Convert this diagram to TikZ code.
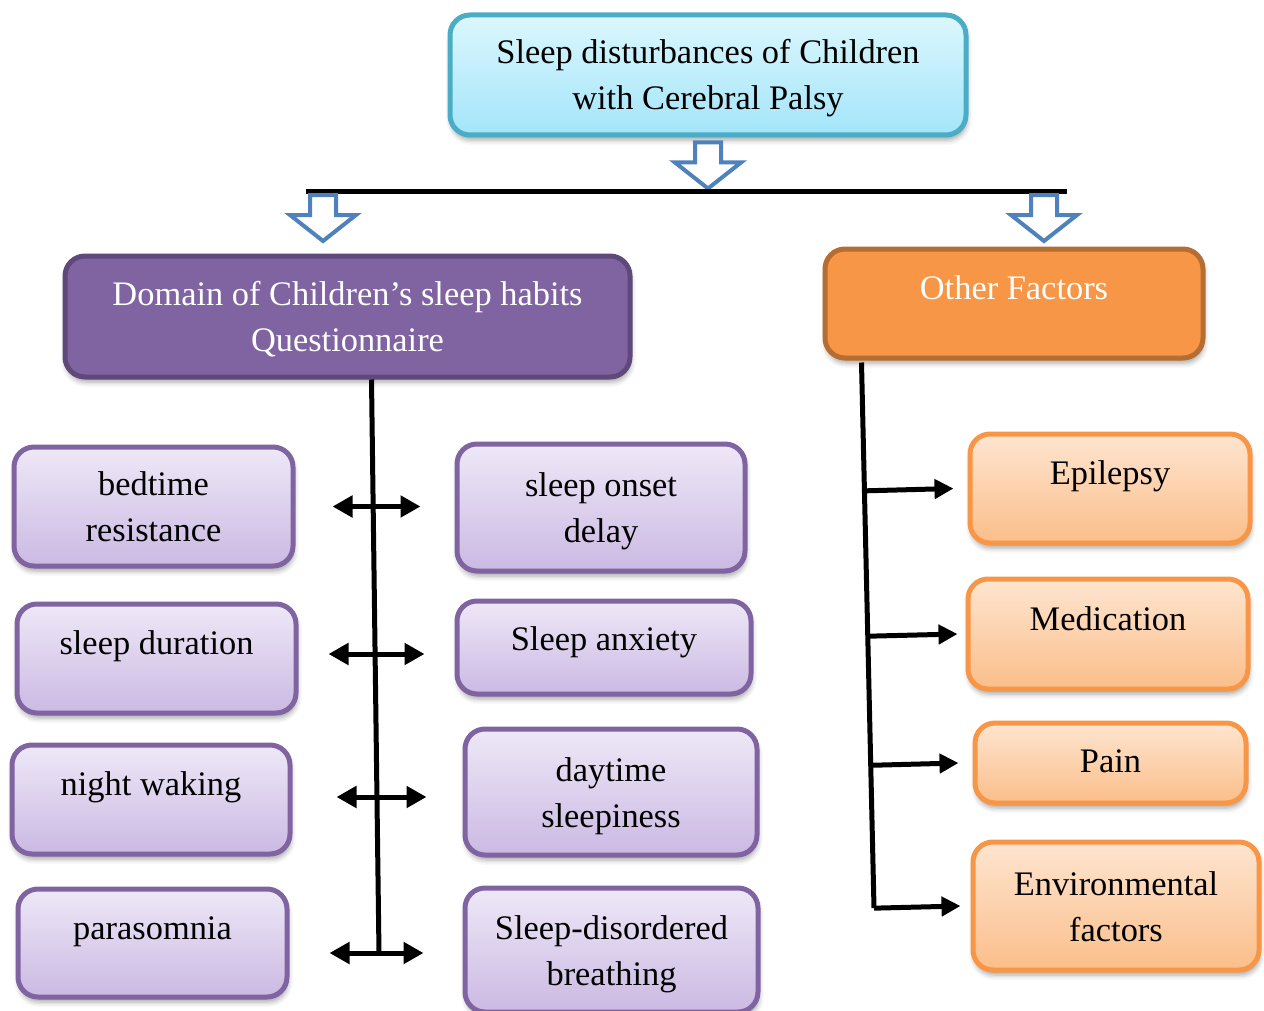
\documentclass[tikz,border=0pt]{standalone}
\usepackage{fontspec}
\setmainfont{Liberation Serif}
\usetikzlibrary{arrows.meta,calc,shadows.blur}
\definecolor{titleborder}{RGB}{75,172,198}
\definecolor{titletop}{RGB}{220,247,253}
\definecolor{titlebottom}{RGB}{163,229,250}
\definecolor{domainfill}{RGB}{128,100,162}
\definecolor{domainborder}{RGB}{95,73,122}
\definecolor{otherfill}{RGB}{247,150,70}
\definecolor{otherborder}{RGB}{182,109,49}
\definecolor{habittop}{RGB}{238,232,247}
\definecolor{habitbottom}{RGB}{203,185,227}
\definecolor{habitborder}{RGB}{128,100,162}
\definecolor{factortop}{RGB}{254,229,208}
\definecolor{factorbottom}{RGB}{251,190,138}
\definecolor{factorborder}{RGB}{247,150,70}
\definecolor{arrowblue}{RGB}{79,129,189}
\tikzset{
  basebox/.style={rectangle, rounded corners=10pt, line width=2.5pt,
    align=center, inner sep=2pt, font=\fontsize{17.2}{23}\selectfont,
    blur shadow={shadow xshift=0.5pt, shadow yshift=-2.5pt,
      shadow blur radius=2.5pt, shadow opacity=35}},
  titlebox/.style={basebox, draw=titleborder, top color=titletop,
    bottom color=titlebottom},
  domainbox/.style={basebox, draw=domainborder, fill=domainfill, text=white},
  otherbox/.style={basebox, draw=otherborder, fill=otherfill, text=white},
  habitbox/.style={basebox, draw=habitborder, top color=habittop,
    bottom color=habitbottom},
  factorbox/.style={basebox, draw=factorborder, top color=factortop,
    bottom color=factorbottom},
  twoline/.style={text height=39pt, text depth=4pt},
  toptext/.style={text height=12pt, text depth=16pt},
  hollowarrow/.style={draw=arrowblue, line width=2pt, fill=white},
  trunk/.style={line width=2.5pt, draw=black},
  twoway/.style={{Triangle[length=10pt,width=10.5pt]}-{Triangle[length=10pt,width=10.5pt]},
    line width=2.5pt},
  oneway/.style={-{Triangle[length=9.5pt,width=9.5pt]}, line width=2.5pt}
}
\newcommand{\hollowdown}[1]{%
  \draw[hollowarrow] #1 ++(-13,0) -- ++(26,0) -- ++(0,20) -- ++(20,0)
    -- ++(-33,26) -- ++(-33,-26) -- ++(20,0) -- cycle;}

\begin{document}
\begin{tikzpicture}[x=0.5pt, y=-0.5pt]
  \useasboundingbox (0,0) rectangle (1264,1011);

  % --- top ---
  \node[titlebox, twoline, minimum width=258pt, minimum height=60pt] (main) at (708,75)
       {Sleep disturbances of Children\\ with Cerebral Palsy};

  % --- split ---
  \coordinate (barL) at (306,191);
  \coordinate (barR) at (1067,191);
  \coordinate (forkL) at (323,195);
  \coordinate (forkR) at (1044,195);

  % --- the two groups ---
  \node[domainbox, twoline, minimum width=282.5pt, minimum height=60.5pt] (domain) at (347.5,316.5)
       {Domain of Children’s sleep habits\\ Questionnaire};
  \node[otherbox, toptext, minimum width=189pt, minimum height=54.5pt] (other) at (1014,303.5)
       {Other Factors};

  % --- sleep habits, left column ---
  \node[habitbox, twoline, minimum width=139.5pt, minimum height=59.5pt] (bedtime) at (153.5,506.5)
       {bedtime\\ resistance};
  \node[habitbox, toptext, minimum width=139.5pt, minimum height=54.5pt] (sduration) at (156.5,658.5)
       {sleep duration};
  \node[habitbox, toptext, minimum width=139pt, minimum height=54.5pt] (nwaking) at (151,799.5)
       {night waking};
  \node[habitbox, toptext, minimum width=134.5pt, minimum height=54pt] (parasomnia) at (152.5,943)
       {parasomnia};

  % --- sleep habits, right column ---
  \node[habitbox, twoline, minimum width=144pt, minimum height=63.5pt] (onset) at (601,507.5)
       {sleep onset\\ delay};
  \node[habitbox, text height=12pt, text depth=9pt, minimum width=147pt, minimum height=46.5pt]
       (anxiety) at (604,647.5) {Sleep anxiety};
  \node[habitbox, twoline, minimum width=146pt, minimum height=63pt] (daytime) at (611,792)
       {daytime\\ sleepiness};
  \node[habitbox, twoline, minimum width=146.5pt, minimum height=62pt] (sdb) at (611.5,950)
       {Sleep-disordered\\ breathing};

  % --- other factors ---
  \node[factorbox, toptext, minimum width=140pt, minimum height=54.5pt] (epilepsy) at (1110,488.5)
       {Epilepsy};
  \node[factorbox, toptext, minimum width=140pt, minimum height=55pt] (medication) at (1108,634)
       {Medication};
  \node[factorbox, text height=12pt, text depth=3pt, minimum width=135.5pt, minimum height=40pt]
       (pain) at (1110.5,763) {Pain};
  \node[factorbox, twoline, minimum width=143pt, minimum height=64pt] (envfactors) at (1116,906)
       {Environmental\\ factors};

  % ---------------- edges ----------------
  \hollowdown{([yshift=-2.5pt]main.south)}
  \draw[trunk] (barL) -- (barR);
  \hollowdown{(forkL)}
  \hollowdown{(forkR)}

  % left trunk with double arrows
  \coordinate (lbot) at (379,953);
  \draw[trunk] ($(domain.south)+(24,0)$) -- (lbot);
  \draw[twoway] ($(bedtime.east)+(37,0)$) -- ($(bedtime.east)+(125,0)$);
  \draw[twoway] ($(sduration.east)+(30,-4.5)$) -- ($(sduration.east)+(126,-4.5)$);
  \draw[twoway] ($(nwaking.east)+(44,-2.5)$) -- ($(nwaking.east)+(134,-2.5)$);
  \draw[twoway] ($(parasomnia.east)+(40,10)$) -- ($(parasomnia.east)+(134,10)$);

  % right trunk with arrows
  \coordinate (rtop) at ($(other.south west)+(39,2)$);
  \coordinate (rbot) at (874,908);
  \draw[trunk] (rtop) -- (rbot);
  \draw[oneway] ($(rtop)!(epilepsy.west)!(rbot)$) -- ([xshift=-7pt]epilepsy.west);
  \draw[oneway] ($(rtop)!(medication.west)!(rbot)$) -- ([xshift=-4pt]medication.west);
  \draw[oneway] ($(rtop)!(pain.west)!(rbot)$) -- ([xshift=-7pt]pain.west);
  \draw[oneway] ($(rtop)!(envfactors.west)!(rbot)$) -- ([xshift=-5pt]envfactors.west);

\end{tikzpicture}
\end{document}
